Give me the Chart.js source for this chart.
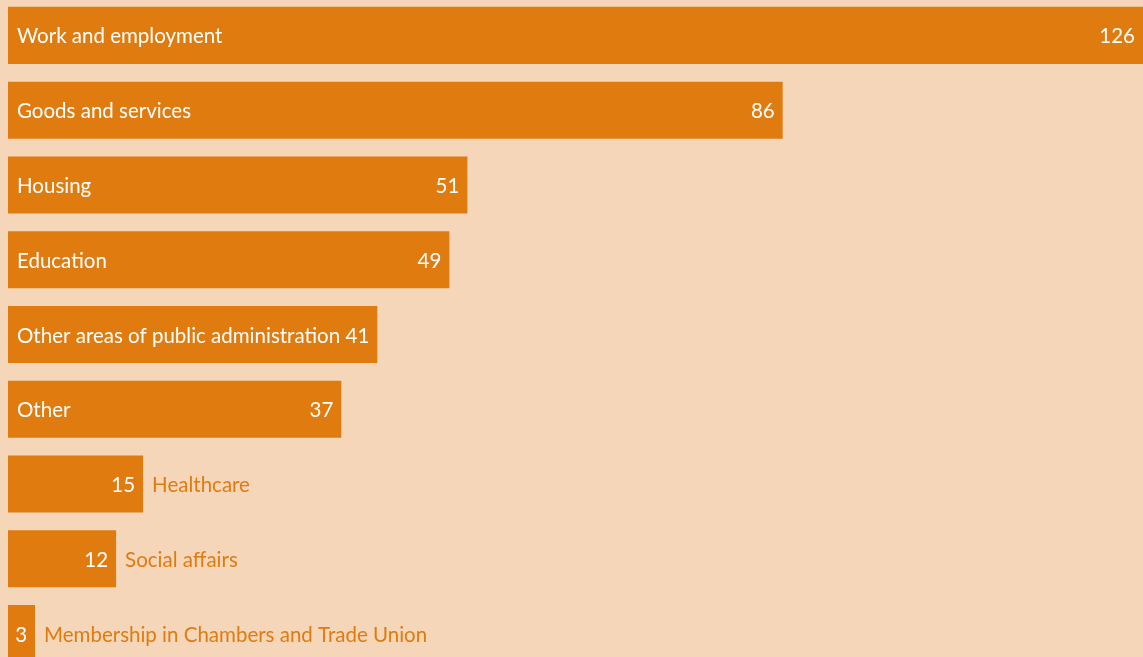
<!DOCTYPE html>
<html>
<head>
<meta charset="utf-8">
<script src="https://cdn.jsdelivr.net/npm/chart.js@4.4.1/dist/chart.umd.min.js"></script>
<style>
  html, body { margin: 0; padding: 0; background: #F5D6B8; overflow: hidden; width: 1143px; height: 657px; }
  #wrap { position: absolute; left: 0; top: -2px; width: 1143px; height: 673px; }
</style>
</head>
<body>
<div id="wrap"><canvas id="c"></canvas></div>
<script>
const categories = [
  "Work and employment",
  "Goods and services",
  "Housing",
  "Education",
  "Other areas of public administration",
  "Other",
  "Healthcare",
  "Social affairs",
  "Membership in Chambers and Trade Union"
];
const values = [126, 86, 51, 49, 41, 37, 15, 12, 3];

const BAR = "#E07B10";
const BG = "#F5D6B8";
const FONT = "20.5px Lato, 'Open Sans', sans-serif";

const labelPlugin = {
  id: "barLabels",
  afterDatasetsDraw(chart) {
    const ctx = chart.ctx;
    const meta = chart.getDatasetMeta(0);
    ctx.save();
    ctx.font = FONT;
    ctx.textBaseline = "middle";
    meta.data.forEach((bar, i) => {
      const left = bar.base;
      const right = bar.x;
      const y = bar.y + 1.5;
      const lab = categories[i];
      const val = String(values[i]);
      const lw = ctx.measureText(lab).width;
      const vw = ctx.measureText(val).width;
      const fits = 9 + lw + 5 + vw + 8 <= right - left;
      ctx.fillStyle = "#FFFFFF";
      ctx.textAlign = "right";
      ctx.fillText(val, right - 8, y);
      ctx.textAlign = "left";
      if (fits) {
        ctx.fillStyle = "#FFFFFF";
        ctx.fillText(lab, left + 9, y);
      } else {
        ctx.fillStyle = "#E07B10";
        ctx.fillText(lab, right + 9, y);
      }
    });
    ctx.restore();
  }
};

const bgPlugin = {
  id: "bg",
  beforeDraw(chart) {
    const ctx = chart.ctx;
    ctx.save();
    ctx.fillStyle = BG;
    ctx.fillRect(0, 0, chart.width, chart.height);
    ctx.restore();
  }
};

new Chart(document.getElementById("c"), {
  type: "bar",
  data: {
    labels: categories,
    datasets: [{
      data: values,
      backgroundColor: BAR,
      borderWidth: 0,
      barPercentage: 0.763,
      categoryPercentage: 1.0
    }]
  },
  options: {
    indexAxis: "y",
    responsive: true,
    maintainAspectRatio: false,
    animation: false,
    layout: { padding: { left: 8, right: 0, top: 0, bottom: 0 } },
    plugins: { legend: { display: false }, tooltip: { enabled: false } },
    scales: {
      x: { display: false, min: 0, max: 126 },
      y: { display: false }
    }
  },
  plugins: [bgPlugin, labelPlugin]
});
</script>
</body>
</html>
